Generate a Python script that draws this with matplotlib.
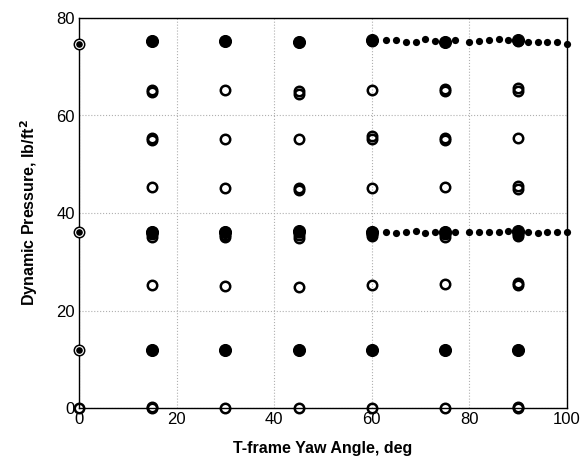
import matplotlib
matplotlib.use("Agg")
import matplotlib.pyplot as plt

plt.rcParams['font.family'] = ['Liberation Sans', 'DejaVu Sans']

# Test matrix: yaw angle (deg) and dynamic pressure (lb/ft^2)
# Open-circle runs
open_yaw = [0, 15, 15, 30, 45, 60, 75, 90, 90,
            15, 30, 45, 60, 75, 90, 90,
            15, 15, 15, 30, 30, 30, 45, 45, 45, 60, 60, 60, 75, 75, 75, 90, 90, 90,
            15, 30, 45, 45, 60, 75, 90, 90,
            15, 15, 30, 45, 60, 60, 75, 75, 90,
            15, 15, 30, 45, 45, 60, 75, 75, 90, 90,
            0, 15, 30, 45, 60, 75, 90,
            0, 15, 30, 45, 60, 75, 90,
            0, 15, 30, 45, 60, 75, 90]
open_q = [0.0, 0.0, 0.2, 0.0, 0.0, 0.0, 0.0, 0.0, 0.2,
          25.3, 25.0, 24.9, 25.3, 25.4, 25.2, 25.6,
          35.0, 35.6, 36.2, 35.0, 35.5, 36.0, 34.9, 35.4, 36.2, 35.2, 35.7, 36.0, 35.0, 35.6, 36.0, 35.2, 35.6, 36.0,
          45.4, 45.2, 44.7, 45.2, 45.2, 45.4, 45.0, 45.6,
          54.9, 55.4, 55.1, 55.2, 55.1, 55.8, 55.0, 55.4, 55.4,
          64.8, 65.2, 65.2, 64.5, 65.0, 65.2, 65.0, 65.5, 65.0, 65.6,
          12.0, 12.0, 12.0, 12.0, 12.0, 12.0, 12.0,
          36.1, 36.2, 36.1, 36.1, 36.2, 36.0, 36.2,
          74.7, 75.3, 75.3, 75.0, 75.3, 75.1, 75.3]

# Solid-marker runs
solid_yaw = [15, 30, 45, 60, 75, 90,
             15, 30, 45, 60, 75, 90,
             15, 30, 45, 60, 75, 90]
solid_q = [12.0, 12.0, 12.0, 12.0, 12.0, 12.0,
           36.2, 36.1, 36.3, 36.1, 36.1, 36.4,
           75.2, 75.3, 75.0, 75.5, 75.0, 75.4]

# Zero-yaw reference points
ref_yaw = [0, 0, 0]
ref_q = [12.0, 36.1, 74.7]

# Yaw sweeps at constant pressure
sweep_yaw = [63, 65, 67, 69, 71, 73, 75, 77, 80, 82, 84, 86, 88, 90, 92, 94, 96, 98, 100]
sweep_q_high = [75.4, 75.5, 75.1, 75.0, 75.6, 75.2, 75.2, 75.4, 75.1, 75.2,
                75.4, 75.6, 75.4, 75.3, 75.1, 75.1, 75.1, 75.0, 74.7]
sweep_q_low = [36.0, 35.8, 36.0, 36.3, 35.8, 36.0, 36.0, 36.0, 36.1, 36.0,
               36.0, 36.1, 36.3, 36.1, 36.0, 35.9, 36.0, 36.0, 36.1]

x_ticks = [0, 20, 40, 60, 80, 100]
y_ticks = [0, 20, 40, 60, 80]

fig = plt.figure(figsize=(5.84, 4.65), dpi=100)
ax = fig.add_axes([79 / 584, 1 - 408 / 465, (567 - 79) / 584, (408 - 18) / 465])

ax.plot(solid_yaw, solid_q, linestyle='none', marker='o', markersize=8.6,
        markerfacecolor='black', markeredgecolor='black', markeredgewidth=0.8,
        clip_on=False, zorder=3)
ax.plot(open_yaw, open_q, linestyle='none', marker='o', markersize=6.8,
        markerfacecolor='none', markeredgecolor='black', markeredgewidth=1.8,
        clip_on=False, zorder=4)
ax.plot(ref_yaw, ref_q, linestyle='none', marker='o', markersize=5.6,
        markerfacecolor='black', markeredgecolor='white', markeredgewidth=0.8,
        clip_on=False, zorder=5)
for sq in (sweep_q_high, sweep_q_low):
    ax.plot(sweep_yaw, sq, linestyle='none', marker='o', markersize=5.2,
            markerfacecolor='black', markeredgecolor='black', markeredgewidth=0,
            clip_on=False, zorder=5)

ax.set_xlim(0, 100)
ax.set_ylim(0, 80)
ax.set_xticks(x_ticks)
ax.set_yticks(y_ticks)
ax.tick_params(direction='in', length=0, labelsize=12, pad=3)
ax.grid(True, color='#b0b0b0', linestyle=':', linewidth=0.8)
ax.set_axisbelow(True)
for s in ax.spines.values():
    s.set_linewidth(1.0)
    s.set_color('black')

ax.set_xlabel('T-frame Yaw Angle, deg', fontsize=11.5, fontweight='bold', labelpad=10)
ax.set_ylabel('Dynamic Pressure, lb/ft$^\\mathbf{2}$', fontsize=11.5, fontweight='bold', labelpad=12)

fig.savefig('out.png', dpi=100)
